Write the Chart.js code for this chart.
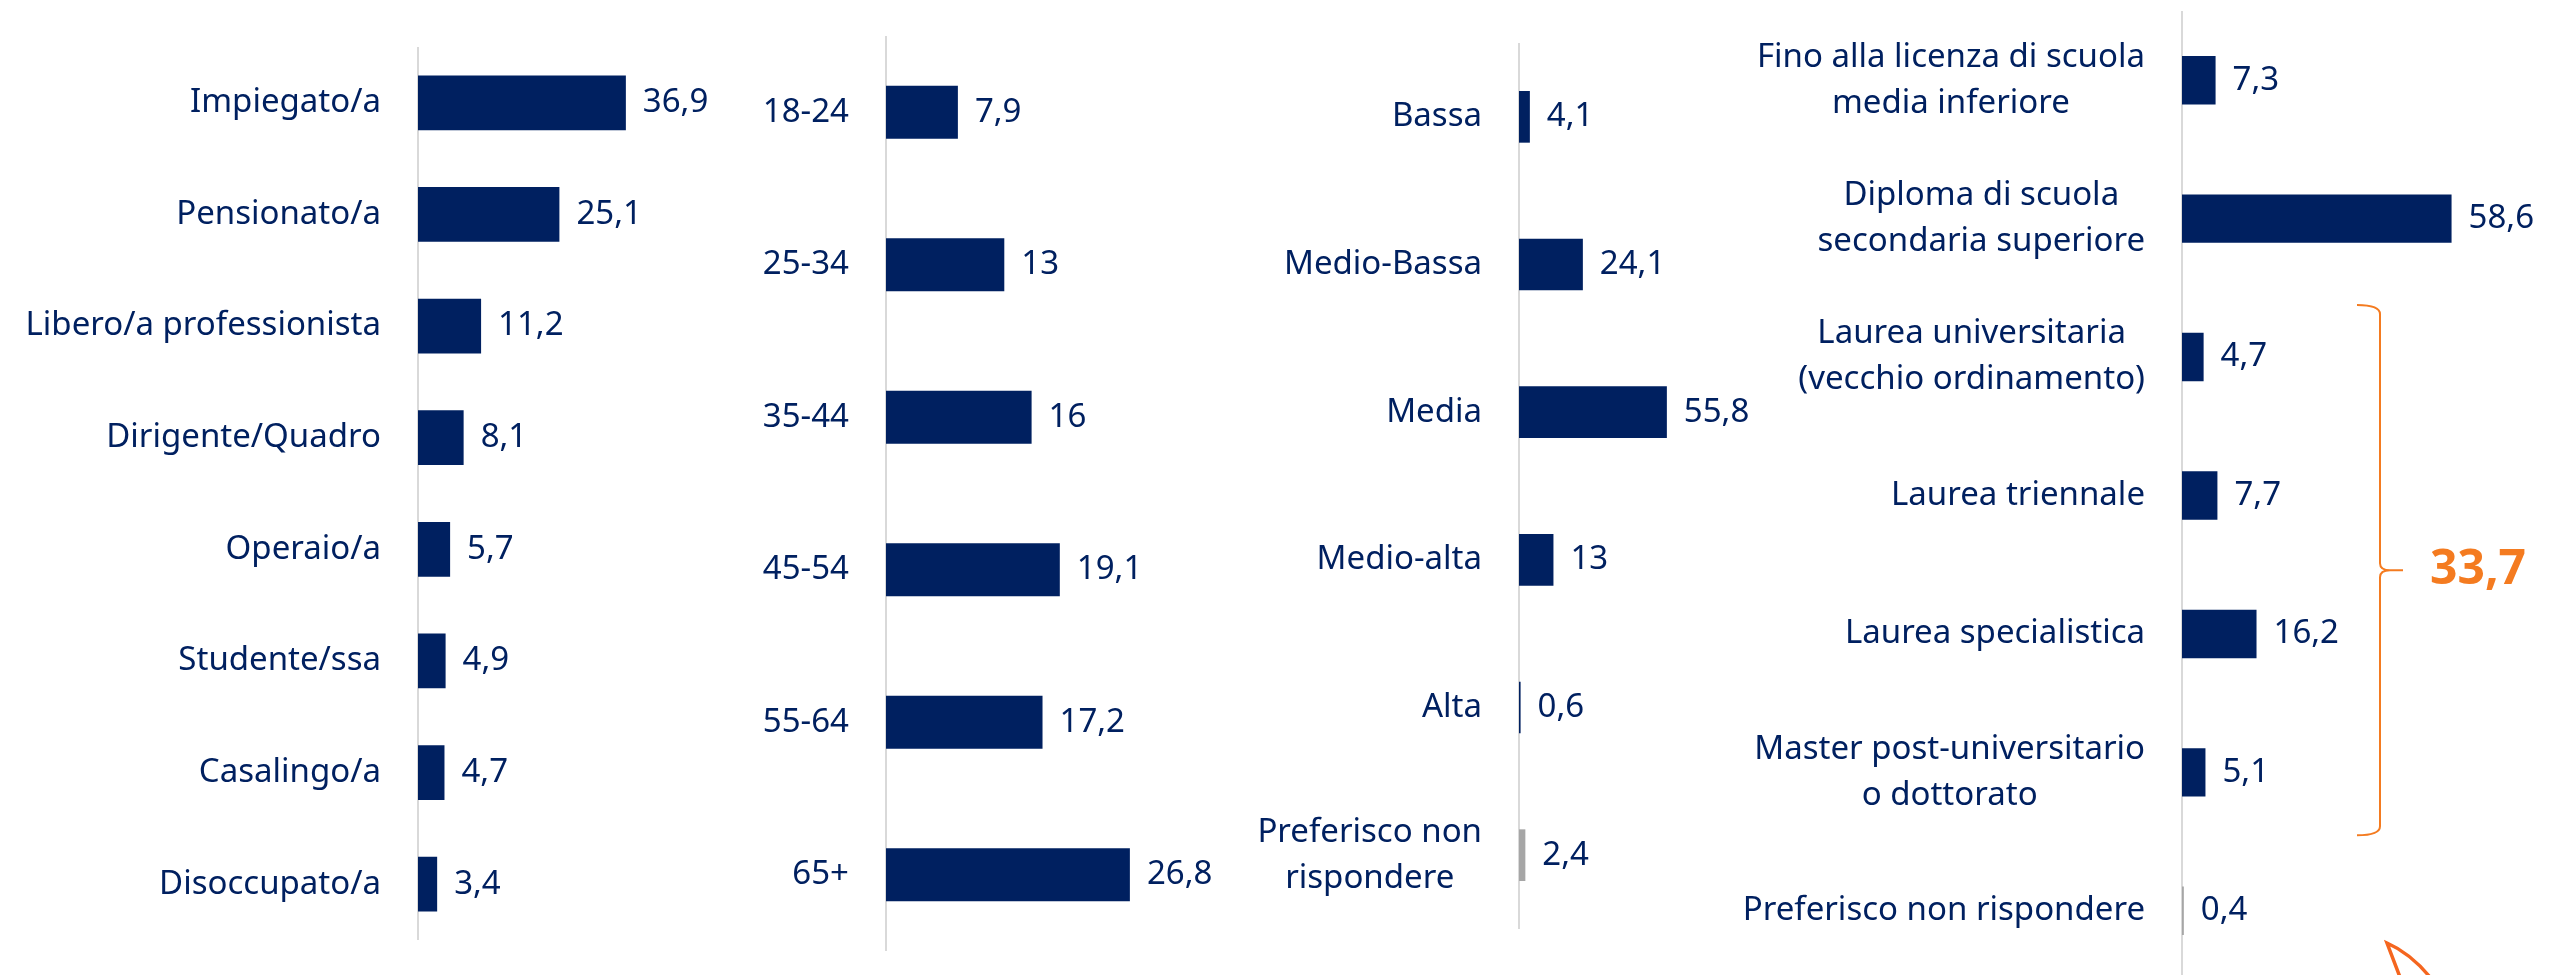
<!DOCTYPE html>
<html lang="it">
<head>
<meta charset="utf-8">
<title>Profilo del campione</title>
<script src="https://cdn.jsdelivr.net/npm/chart.js@4.4.1/dist/chart.umd.min.js"></script>
<style>
  html, body { margin: 0; padding: 0; background: #fff; overflow: hidden; }
  #page { position: relative; width: 2552px; height: 975px; overflow: hidden; }
  .panel { position: absolute; }
</style>
</head>
<body>
<div id="page">
  <div class="panel" id="p1"><canvas id="chartProfessione"></canvas></div>
  <div class="panel" id="p2"><canvas id="chartEta"></canvas></div>
  <div class="panel" id="p3"><canvas id="chartReddito"></canvas></div>
  <div class="panel" id="p4"><canvas id="chartStudio"></canvas></div>
</div>
<script>
// Professione
const professioneLabels = ["Impiegato/a", "Pensionato/a", "Libero/a professionista", "Dirigente/Quadro",
    "Operaio/a", "Studente/ssa", "Casalingo/a", "Disoccupato/a"];
const professioneValues = [36.9, 25.1, 11.2, 8.1, 5.7, 4.9, 4.7, 3.4];

// Età
const etaLabels = ["18-24", "25-34", "35-44", "45-54", "55-64", "65+"];
const etaValues = [7.9, 13, 16, 19.1, 17.2, 26.8];

// Fascia di reddito
const redditoLabels = ["Bassa", "Medio-Bassa", "Media", "Medio-alta", "Alta", ["Preferisco non", "rispondere"]];
const redditoValues = [4.1, 24.1, 55.8, 13, 0.6, 2.4];

// Titolo di studio
const studioLabels = [
    ["Fino alla licenza di scuola", "media inferiore"],
    ["Diploma di scuola", "secondaria superiore"],
    ["Laurea universitaria", "(vecchio ordinamento)"],
    "Laurea triennale",
    "Laurea specialistica",
    ["Master post-universitario", "o dottorato"],
    "Preferisco non rispondere"
];
const studioValues = [7.3, 58.6, 4.7, 7.7, 16.2, 5.1, 0.4];

// graffa arancione: totale laureati (righe 2..5)
const laureaTotale = 33.7;
const laureaRighe = [2, 5];

const NAVY = '#002060';
const GREY = '#a6a6a6';
const ORANGE = '#f47b20';
const FONT_FAMILY = '"Noto Sans", "Open Sans", sans-serif';

function formatIt(v) {
    return String(v).replace('.', ',');
}

// etichette delle categorie (righe centrate tra loro, blocco allineato a destra)
const categoryLabels = {
    id: 'categoryLabels',
    afterDraw(chart, args, opts) {
        const ctx = chart.ctx;
        const yScale = chart.scales.y;
        const left = chart.chartArea.left;
        ctx.save();
        ctx.font = opts.font;
        ctx.fillStyle = NAVY;
        ctx.textAlign = 'center';
        ctx.textBaseline = 'middle';
        chart.data.labels.forEach(function(label, i) {
            const lines = Array.isArray(label) ? label : [label];
            const w = Math.max.apply(null, lines.map(l => ctx.measureText(l).width));
            const cx = left - opts.padding - w / 2;
            const cy = yScale.getPixelForValue(i);
            lines.forEach(function(line, j) {
                ctx.fillText(line, cx, cy + (j - (lines.length - 1) / 2) * opts.lineHeight);
            });
        });
        ctx.restore();
    }
};

// valori a destra delle barre
const valueLabels = {
    id: 'valueLabels',
    afterDatasetsDraw(chart, args, opts) {
        const ctx = chart.ctx;
        const meta = chart.getDatasetMeta(0);
        const values = chart.data.datasets[0].data;
        ctx.save();
        ctx.font = opts.font;
        ctx.fillStyle = NAVY;
        ctx.textAlign = 'left';
        ctx.textBaseline = 'middle';
        meta.data.forEach(function(bar, i) {
            ctx.fillText(formatIt(values[i]), bar.x + opts.offset, bar.y);
        });
        ctx.restore();
    }
};

function makeChart(canvasId, labels, values, cfg) {
    const box = document.getElementById(canvasId).parentNode;
    box.style.left = cfg.left + 'px';
    box.style.top = cfg.top + 'px';
    box.style.width = cfg.width + 'px';
    box.style.height = cfg.height + 'px';

    const colors = labels.map(l => String(l).indexOf('Preferisco') === 0 ? GREY : NAVY);

    return new Chart(document.getElementById(canvasId), {
        type: 'bar',
        data: {
            labels: labels,
            datasets: [{
                data: values,
                backgroundColor: colors,
                borderWidth: 0,
                barPercentage: cfg.barPct,
                categoryPercentage: 1
            }]
        },
        options: {
            indexAxis: 'y',
            responsive: true,
            maintainAspectRatio: false,
            animation: false,
            layout: { padding: { top: 0, bottom: 0, left: 0, right: cfg.padRight || 0 } },
            scales: {
                x: { display: false, min: 0, max: cfg.max },
                y: {
                    grid: { display: false },
                    border: { display: true, color: '#d9d9d9', width: 2 },
                    ticks: { display: false },
                    afterFit: function(scale) { scale.width = cfg.axisWidth; }
                }
            },
            plugins: {
                legend: { display: false },
                tooltip: { enabled: false },
                categoryLabels: { font: '33px ' + FONT_FAMILY, padding: 37, lineHeight: 46 },
                valueLabels: { font: '33px ' + FONT_FAMILY, offset: 17 }
            }
        },
        plugins: [categoryLabels, valueLabels].concat(cfg.extraPlugins || [])
    });
}

// graffa + totale + freccia sul pannello del titolo di studio
const laureaBrace = {
    id: 'laureaBrace',
    afterDraw(chart) {
        const ctx = chart.ctx;
        const y = chart.scales.y;
        const yTop = y.getPixelForValue(laureaRighe[0]) - 52;
        const yBot = y.getPixelForValue(laureaRighe[1]) + 63;
        const yMid = (yTop + yBot) / 2;
        const hookX = 637, lineX = 660, tipX = 683;

        ctx.save();
        ctx.strokeStyle = ORANGE;
        ctx.lineWidth = 2;
        ctx.beginPath();
        ctx.moveTo(hookX, yTop);
        ctx.quadraticCurveTo(lineX, yTop, lineX, yTop + 9);
        ctx.lineTo(lineX, yMid - 7);
        ctx.quadraticCurveTo(lineX, yMid, lineX + 10, yMid);
        ctx.lineTo(tipX, yMid);
        ctx.moveTo(lineX + 10, yMid);
        ctx.quadraticCurveTo(lineX, yMid, lineX, yMid + 7);
        ctx.lineTo(lineX, yBot - 9);
        ctx.quadraticCurveTo(lineX, yBot, hookX, yBot);
        ctx.stroke();

        ctx.fillStyle = ORANGE;
        ctx.font = 'bold 48px ' + FONT_FAMILY;
        ctx.textAlign = 'left';
        ctx.textBaseline = 'middle';
        ctx.fillText(formatIt(laureaTotale), 710, yMid);

        // punta di freccia in basso (tagliata dal bordo)
        ctx.strokeStyle = '#f5661f';
        ctx.lineWidth = 3.5;
        ctx.lineCap = 'round';
        ctx.beginPath();
        ctx.moveTo(680, 966);
        ctx.lineTo(667, 932);
        ctx.quadraticCurveTo(690, 942, 710, 966);
        ctx.stroke();
        ctx.restore();
    }
};

makeChart('chartProfessione', professioneLabels, professioneValues,
    { left: 0, top: 47, width: 756, height: 893, axisWidth: 418, max: 60, barPct: 0.49 });

makeChart('chartEta', etaLabels, etaValues,
    { left: 760, top: 36, width: 490, height: 915, axisWidth: 126, max: 40, barPct: 0.347 });

makeChart('chartReddito', redditoLabels, redditoValues,
    { left: 1250, top: 43, width: 534, height: 886, axisWidth: 269, max: 100, barPct: 0.35 });

makeChart('chartStudio', studioLabels, studioValues,
    { left: 1720, top: 11, width: 832, height: 969, axisWidth: 462, max: 70, barPct: 0.35,
      padRight: 48, extraPlugins: [laureaBrace] });
</script>
</body>
</html>
